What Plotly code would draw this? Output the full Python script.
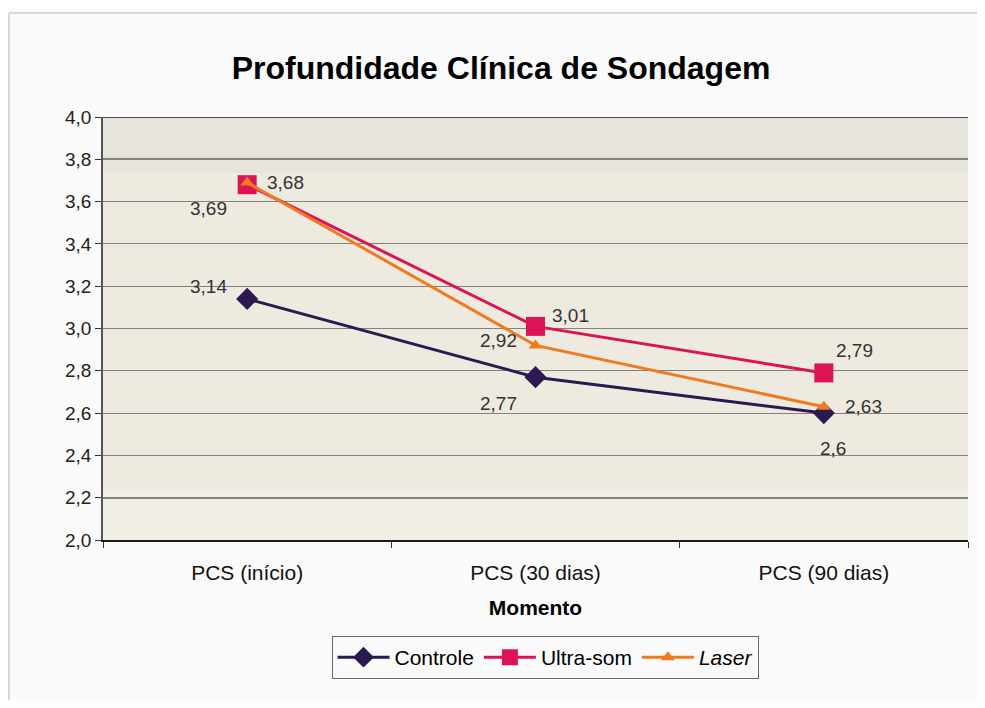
import plotly.graph_objects as go

categories = ["PCS (início)", "PCS (30 dias)", "PCS (90 dias)"]
controle = [3.14, 2.77, 2.60]
ultrasom = [3.68, 3.01, 2.79]
laser = [3.69, 2.92, 2.63]
controle_labels = ["3,14", "2,77", "2,6"]
ultrasom_labels = ["3,68", "3,01", "2,79"]
laser_labels = ["3,69", "2,92", "2,63"]
y_ticks = [2.0, 2.2, 2.4, 2.6, 2.8, 3.0, 3.2, 3.4, 3.6, 3.8, 4.0]
y_tick_text = ["2,0", "2,2", "2,4", "2,6", "2,8", "3,0", "3,2", "3,4", "3,6", "3,8", "4,0"]

font_family = "Liberation Sans, Arial, sans-serif"
label_font = dict(family=font_family, size=19, color="#333333")

series = [
    dict(name="Controle", y=controle, labels=controle_labels, color="#2b1a4f",
         symbol="diamond", size=17,
         offsets=[(-39, 12), (-37, -26), (9, -35)]),
    dict(name="Ultra-som", y=ultrasom, labels=ultrasom_labels, color="#dc1455",
         symbol="square", size=19,
         offsets=[(38, 2), (35, 11), (31, 22)]),
    dict(name="<i>Laser</i>", y=laser, labels=laser_labels, color="#f07a22",
         symbol="triangle-up", size=12,
         offsets=[(-39, -26), (-37, 5), (40, 0)]),
]

fig = go.Figure()
annotations = []
for s in series:
    fig.add_trace(go.Scatter(
        x=categories, y=s["y"], name=s["name"], mode="lines+markers",
        line=dict(color=s["color"], width=3),
        marker=dict(symbol=s["symbol"], size=s["size"], color=s["color"]),
    ))
    for cat, val, lab, (dx, dy) in zip(categories, s["y"], s["labels"], s["offsets"]):
        annotations.append(dict(x=cat, y=val, text=lab, showarrow=False,
                                xanchor="center", yanchor="middle",
                                xshift=dx, yshift=dy, font=label_font))

fig.update_layout(
    width=969, height=692,
    margin=dict(l=95, r=9, t=109, b=160),
    paper_bgcolor="#fafafa",
    plot_bgcolor="#eeeae0",
    title=dict(text="<b>Profundidade Clínica de Sondagem</b>", x=0.5088, xref="container",
               xanchor="center", y=0.9133, yref="container", yanchor="middle",
               font=dict(family=font_family, size=32, color="#000000")),
    font=dict(family=font_family, size=19, color="#000000"),
    showlegend=True,
    legend=dict(orientation="h", x=0.511, xanchor="center", y=-0.227, yanchor="top",
                bordercolor="#666666", borderwidth=1, bgcolor="#fafafa",
                font=dict(family=font_family, size=21, color="#000000"),
                itemwidth=52, tracegroupgap=0),
    annotations=annotations,
    shapes=[
        dict(type="rect", xref="paper", yref="y", x0=0, x1=1, y0=3.735, y1=4.0,
             fillcolor="#e7e4de", line=dict(width=0), layer="below"),
        dict(type="rect", xref="paper", yref="y", x0=0, x1=1, y0=2.0, y1=2.237,
             fillcolor="#f0eee5", line=dict(width=0), layer="below"),
        dict(type="line", xref="paper", yref="y", x0=0, x1=1, y0=3.8, y1=3.8,
             line=dict(color="#1a1a1a", width=1.5), layer="between"),
        dict(type="line", xref="paper", yref="y", x0=0, x1=1, y0=2.2, y1=2.2,
             line=dict(color="#1a1a1a", width=1.5), layer="between"),
        dict(type="line", xref="paper", yref="y", x0=0, x1=1, y0=4.0, y1=4.0,
             line=dict(color="#1a1a1a", width=1.5), layer="between"),
        dict(type="line", xref="paper", yref="paper",
             x0=-0.1087, x1=1.02, y0=1.2459, y1=1.2459,
             line=dict(color="#cccccc", width=1.5), layer="below"),
        dict(type="line", xref="paper", yref="paper",
             x0=-0.1087, x1=-0.1087, y0=1.2459, y1=-0.38,
             line=dict(color="#cccccc", width=1.5), layer="below"),
    ],
)
fig.update_xaxes(
    type="category", tickson="boundaries", ticks="outside", ticklen=6,
    tickcolor="#333333", showline=True, linecolor="#1a1a1a", linewidth=1.5,
    showgrid=False, tickfont=dict(family=font_family, size=21, color="#111111"),
    ticklabelstandoff=13,
    title=dict(text="<b>Momento</b>", font=dict(family=font_family, size=21, color="#000000"),
               standoff=17),
    range=[-0.5, 2.5],
)
fig.update_yaxes(
    range=[2.0, 4.0], tickvals=y_ticks, ticktext=y_tick_text,
    ticks="outside", ticklen=6, tickcolor="#333333",
    showline=True, linecolor="#555555", linewidth=1.5,
    showgrid=True, gridcolor="#85817b", gridwidth=1.3,
    zeroline=False,
    tickfont=dict(family=font_family, size=19, color="#222222"),
)

fig.write_html("out.html")
